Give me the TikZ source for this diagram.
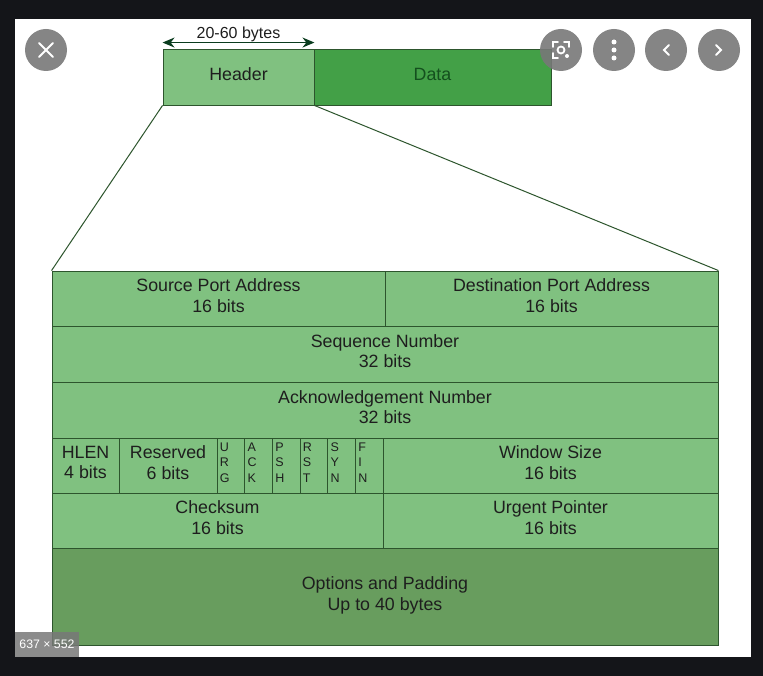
\documentclass[tikz,border=0pt]{standalone}
\usepackage{fontspec}
\setmainfont{Liberation Sans}
\usetikzlibrary{arrows.meta}

\begin{document}
\begin{tikzpicture}[x=1pt, y=-1pt,
  cell/.style={draw=edge, fill=lightg, line width=0.9pt, inner sep=0pt, align=center, text=ink, font=\fontsize{17.8}{20.5}\selectfont,
    execute at end node={\rule[-6pt]{0pt}{6pt}}},
  flag/.style={cell, minimum width=27.7pt, minimum height=55pt, align=left, text width=22pt, font=\fontsize{12.5}{15.5}\selectfont,
    execute at end node={}},
  button/.style={circle, fill=btn, fill opacity=0.9, minimum size=42pt, inner sep=0pt},
  icon/.style={draw=white, line width=2pt, line cap=round}]

% Colors
\definecolor{bgdark}{RGB}{20,21,25}     % viewer frame
\definecolor{lightg}{RGB}{128,193,128}  % header / fields
\definecolor{datag}{RGB}{67,160,71}     % data
\definecolor{optg}{RGB}{104,157,94}     % options
\definecolor{edge}{RGB}{45,85,45}
\definecolor{ink}{RGB}{30,30,30}
\definecolor{datatext}{RGB}{20,80,30}
\definecolor{arrowc}{RGB}{10,60,30}
\definecolor{btn}{RGB}{120,120,120}

\useasboundingbox (0,0) rectangle (763,676);

% === Frame ===
\fill[bgdark] (0,0) rectangle (763,676);
\fill[white] (15,19) rectangle (751,657);

% === Segment ===
\node[cell, minimum width=151pt, minimum height=56pt, execute at end node={}] (header) at (238.5,77) {Header};
\node[cell, fill=datag, text=datatext, minimum width=237pt, minimum height=56pt, execute at end node={}] (data) at (432.5,77) {Data};

\draw[{Stealth[length=12pt,width=10pt]}-{Stealth[length=12pt,width=10pt]}, arrowc, line width=1.3pt]
  ([yshift=6pt]header.north west) -- ([yshift=6pt]header.north east)
  node[midway, above=-3pt, text=ink, font=\fontsize{16}{18}\selectfont] (bytes) {20-60 bytes};

% === TCP header ===
\node[cell, minimum width=333pt, minimum height=55pt] (src) at (218.5,298.5) {Source Port Address\\16 bits};
\node[cell, minimum width=333pt, minimum height=55pt] (dst) at (551.5,298.5) {Destination Port Address\\16 bits};

\node[cell, minimum width=666pt, minimum height=56pt] (seq) at (385,354) {Sequence Number\\32 bits};
\node[cell, minimum width=666pt, minimum height=56pt] (ack) at (385,410) {Acknowledgement Number\\32 bits};

\node[cell, minimum width=67pt, minimum height=55pt] (hlen) at (85.5,465.5) {HLEN\\4 bits};
\node[cell, minimum width=98pt, minimum height=55pt] (rsv) at (168,465.5) {Reserved\\6 bits};
\foreach \la/\lb/\lc [count=\i from 0] in {U/R/G,A/C/K,P/S/H,R/S/T,S/Y/N,F/I/N}
  \node[flag] (flag\i) at ({230.85+27.7*\i},465.5) {\la\\\lb\\\lc};
\node[cell, minimum width=335pt, minimum height=55pt] (win) at (550.5,465.5) {Window Size\\16 bits};

\node[cell, minimum width=331pt, minimum height=55pt] (chk) at (217.5,520.5) {Checksum\\16 bits};
\node[cell, minimum width=335pt, minimum height=55pt] (urg) at (550.5,520.5) {Urgent Pointer\\16 bits};

\node[cell, fill=optg, minimum width=666pt, minimum height=97pt] (opt) at (385,596.5) {Options and Padding\\Up to 40 bytes};

% === Zoom lines ===
\draw[edge, line width=1pt] (header.south west) -- (src.north west);
\draw[edge, line width=1pt] (header.south east) -- (dst.north east);

% === Viewer buttons ===
\node[button] (close) at (46,50) {};
\draw[icon] ([shift={(-7,-7)}]close.center) -- ([shift={(7,7)}]close.center);
\draw[icon] ([shift={(-7,7)}]close.center) -- ([shift={(7,-7)}]close.center);

\node[button] (lens) at (561,50) {};
\draw[icon, line width=1.8pt] ([shift={(-8,-3)}]lens.center) -- ([shift={(-8,-8)}]lens.center) -- ([shift={(-3,-8)}]lens.center);
\draw[icon, line width=1.8pt] ([shift={(3,-8)}]lens.center) -- ([shift={(8,-8)}]lens.center) -- ([shift={(8,-3)}]lens.center);
\draw[icon, line width=1.8pt] ([shift={(-8,3)}]lens.center) -- ([shift={(-8,8)}]lens.center) -- ([shift={(-3,8)}]lens.center);
\draw[icon, line width=1.8pt] (lens.center) circle (3.5pt);
\fill[white] ([shift={(6,6)}]lens.center) circle (2pt);

\node[button] (more) at (614,50) {};
\foreach \d in {-8,0,8}
  \fill[white] ([yshift=\d pt]more.center) circle (2.5pt);

\node[button] (prev) at (666,50) {};
\draw[icon] ([shift={(3,-5)}]prev.center) -- ([shift={(-2,0)}]prev.center) -- ([shift={(3,5)}]prev.center);

\node[button] (next) at (719,50) {};
\draw[icon] ([shift={(-3,-5)}]next.center) -- ([shift={(2,0)}]next.center) -- ([shift={(-3,5)}]next.center);

% === Size tag ===
\node[fill=btn, fill opacity=0.85, text opacity=1, text=white, inner sep=0pt,
  minimum width=64pt, minimum height=25pt, font=\fontsize{12.3}{14}\selectfont] (size) at (47,644.5) {637 × 552};

\end{tikzpicture}
\end{document}
